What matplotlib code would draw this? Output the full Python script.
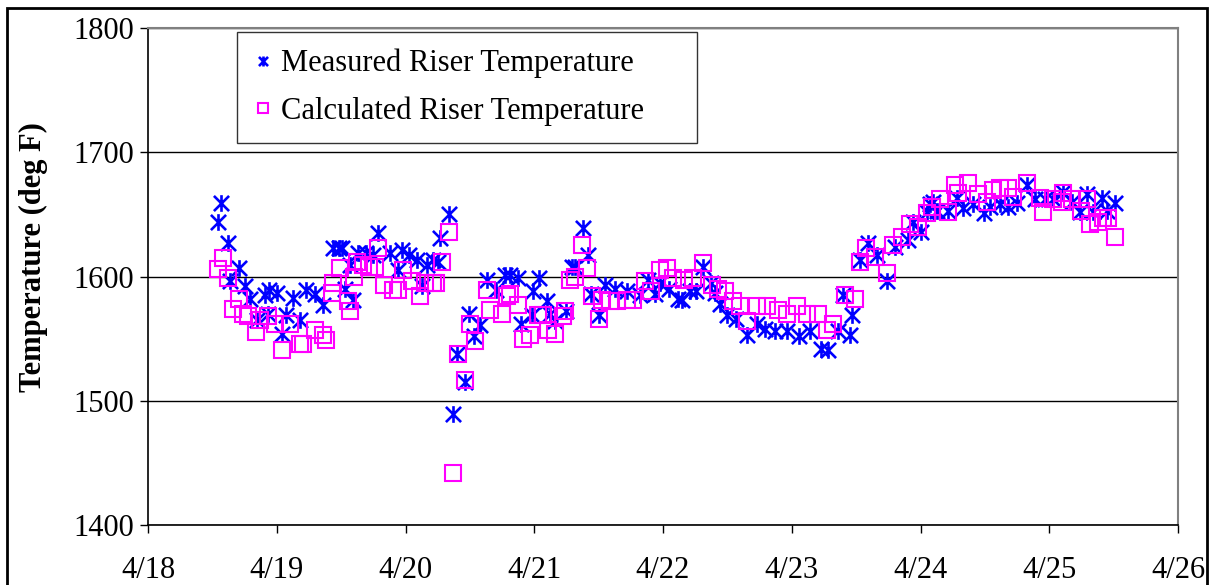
import numpy as np
import matplotlib
matplotlib.use("Agg")
import matplotlib.pyplot as plt
from matplotlib.path import Path
from matplotlib.patches import Rectangle

# days in April (fractional)
measured_day = [
    18.54, 18.57, 18.62, 18.64, 18.71, 18.75, 18.79, 18.85, 18.91, 18.93,
    18.94, 19.00, 19.04, 19.07, 19.13, 19.18, 19.23, 19.30, 19.36, 19.44,
    19.48, 19.51, 19.53, 19.57, 19.59, 19.63, 19.69, 19.75, 19.79, 19.88,
    19.94, 19.97, 20.03, 20.09, 20.13, 20.17, 20.21, 20.25, 20.27, 20.34,
    20.37, 20.40, 20.46, 20.49, 20.53, 20.58, 20.63, 20.70, 20.77, 20.81,
    20.87, 20.90, 20.98, 20.99, 21.04, 21.10, 21.12, 21.16, 21.25, 21.29,
    21.32, 21.38, 21.42, 21.44, 21.50, 21.55, 21.63, 21.72, 21.82, 21.88,
    21.94, 21.98, 22.05, 22.12, 22.15, 22.21, 22.26, 22.31, 22.37, 22.40,
    22.44, 22.50, 22.57, 22.65, 22.73, 22.79, 22.87, 22.96, 23.06, 23.14,
    23.23, 23.28, 23.36, 23.40, 23.45, 23.47, 23.53, 23.59, 23.66, 23.74,
    23.80, 23.90, 23.94, 24.00, 24.05, 24.07, 24.10, 24.13, 24.21, 24.28,
    24.33, 24.41, 24.49, 24.54, 24.62, 24.68, 24.75, 24.83, 24.89, 24.97,
    25.03, 25.11, 25.18, 25.24, 25.29, 25.34, 25.41, 25.45, 25.51,
]
measured_temp = [
    1644, 1659, 1627, 1596, 1607, 1592, 1582, 1565, 1585, 1570,
    1589, 1587, 1554, 1569, 1583, 1565, 1589, 1586, 1577, 1623,
    1623, 1623, 1590, 1609, 1581, 1619, 1619, 1617, 1635, 1619,
    1605, 1621, 1617, 1613, 1592, 1609, 1613, 1612, 1631, 1650,
    1489, 1538, 1515, 1570, 1552, 1561, 1597, 1589, 1601, 1601,
    1599, 1562, 1569, 1588, 1599, 1580, 1570, 1564, 1572, 1608,
    1608, 1639, 1617, 1586, 1569, 1593, 1590, 1588, 1585, 1597,
    1586, 1595, 1590, 1582, 1581, 1588, 1588, 1608, 1595, 1587,
    1578, 1569, 1566, 1553, 1562, 1558, 1556, 1556, 1552, 1556,
    1542, 1541, 1556, 1585, 1553, 1569, 1613, 1627, 1617, 1596,
    1624, 1629, 1644, 1636, 1652, 1658, 1660, 1653, 1653, 1663,
    1655, 1658, 1651, 1656, 1658, 1656, 1659, 1674, 1662, 1662,
    1662, 1668, 1660, 1652, 1666, 1652, 1663, 1653, 1659,
]

calc_day = [
    18.54, 18.58, 18.62, 18.66, 18.71, 18.74, 18.78, 18.84, 18.87, 18.93,
    18.99, 19.04, 19.10, 19.18, 19.20, 19.30, 19.36, 19.38, 19.43, 19.44,
    19.49, 19.55, 19.57, 19.60, 19.62, 19.67, 19.72, 19.76, 19.79, 19.83,
    19.90, 19.94, 19.98, 20.05, 20.11, 20.15, 20.21, 20.24, 20.28, 20.34,
    20.37, 20.41, 20.46, 20.50, 20.54, 20.63, 20.66, 20.75, 20.79, 20.81,
    20.87, 20.91, 20.97, 21.03, 21.07, 21.11, 21.16, 21.22, 21.24, 21.28,
    21.32, 21.37, 21.41, 21.45, 21.50, 21.53, 21.59, 21.64, 21.72, 21.77,
    21.86, 21.91, 21.98, 22.03, 22.08, 22.16, 22.23, 22.31, 22.38, 22.43,
    22.48, 22.54, 22.60, 22.65, 22.73, 22.81, 22.89, 22.96, 23.04, 23.12,
    23.20, 23.27, 23.32, 23.41, 23.49, 23.53, 23.58, 23.65, 23.74, 23.79,
    23.86, 23.92, 23.98, 24.05, 24.09, 24.15, 24.21, 24.27, 24.29, 24.37,
    24.45, 24.52, 24.56, 24.62, 24.68, 24.72, 24.83, 24.93, 24.95, 25.03,
    25.10, 25.11, 25.18, 25.25, 25.29, 25.32, 25.38, 25.42, 25.46, 25.51,
]
calc_temp = [
    1606, 1615, 1599, 1574, 1582, 1570, 1568, 1555, 1565, 1568,
    1562, 1541, 1562, 1546, 1546, 1557, 1553, 1549, 1587, 1595,
    1607, 1580, 1572, 1600, 1612, 1609, 1608, 1608, 1623, 1593,
    1589, 1589, 1605, 1596, 1584, 1595, 1595, 1595, 1612, 1636,
    1442, 1538, 1517, 1562, 1548, 1589, 1573, 1570, 1584, 1586,
    1577, 1550, 1553, 1569, 1569, 1557, 1554, 1568, 1572, 1597,
    1600, 1625, 1607, 1584, 1566, 1581, 1580, 1580, 1581, 1581,
    1596, 1588, 1605, 1607, 1599, 1597, 1599, 1611, 1593, 1590,
    1588, 1580, 1576, 1564, 1576, 1576, 1573, 1570, 1576, 1570,
    1570, 1557, 1562, 1585, 1582, 1612, 1623, 1616, 1603, 1625,
    1632, 1642, 1640, 1651, 1656, 1662, 1652, 1674, 1667, 1675,
    1666, 1660, 1670, 1671, 1671, 1664, 1675, 1663, 1652, 1662,
    1660, 1667, 1662, 1653, 1662, 1642, 1644, 1647, 1647, 1632,
]

x_ticks = [18, 19, 20, 21, 22, 23, 24, 25, 26]
x_labels = ["4/18", "4/19", "4/20", "4/21", "4/22", "4/23", "4/24", "4/25", "4/26"]
y_ticks = [1400, 1500, 1600, 1700, 1800]

# Excel-style asterisk: an X plus a vertical bar
star = Path(
    [(-1, -1), (1, 1), (-1, 1), (1, -1), (0, -1.1), (0, 1.1)],
    [Path.MOVETO, Path.LINETO, Path.MOVETO, Path.LINETO, Path.MOVETO, Path.LINETO],
)

plt.rcParams["font.family"] = ["Liberation Serif", "DejaVu Serif"]

fig = plt.figure(figsize=(12.12, 5.85), dpi=100)
ax = fig.add_axes([148 / 1212, 1 - 525 / 585, 1030 / 1212, 497 / 585])

ax.plot(measured_day, measured_temp, linestyle="none", marker=star,
        markersize=12, markeredgewidth=1.9, color="#0000FF",
        label="Measured Riser Temperature", zorder=3)
ax.plot(calc_day, calc_temp, linestyle="none", marker="s",
        markersize=11, markeredgewidth=1.5, markerfacecolor="none",
        markeredgecolor="#FF00FF", label="Calculated Riser Temperature", zorder=4)

ax.set_xlim(18, 26)
ax.set_ylim(1400, 1800)
ax.set_xticks(x_ticks)
ax.set_xticklabels(x_labels)
ax.set_yticks(y_ticks)
ax.yaxis.grid(True, color="black", linewidth=1.0)
ax.set_axisbelow(True)

for side in ("top", "right"):
    ax.spines[side].set_color("#808080")
    ax.spines[side].set_linewidth(1.5)
for side in ("left", "bottom"):
    ax.spines[side].set_color("black")
    ax.spines[side].set_linewidth(1.2)

ax.tick_params(axis="both", direction="out", length=6, width=1, labelsize=22)
ax.tick_params(axis="x", pad=16)
ax.tick_params(axis="y", pad=4)
ax.set_ylabel("Temperature (deg F)", fontsize=22, fontweight="bold")
ax.yaxis.set_label_coords(-0.097, 0.54)

leg = ax.legend(loc="upper left", bbox_to_anchor=(0.0864, 0.0, 0.4466, 0.992),
                mode="expand", borderaxespad=0, fontsize=22, frameon=True,
                fancybox=False, handlelength=0.6, handletextpad=0.3,
                borderpad=0.55, labelspacing=0.6, markerscale=0.6)
leg.get_frame().set_edgecolor("black")
leg.get_frame().set_linewidth(1.0)

# outer chart border
fig.patches.append(Rectangle((7 / 1212, -0.05), 1200 / 1212, 1.05 - 8 / 585,
                             transform=fig.transFigure, fill=False,
                             edgecolor="black", linewidth=2.0))

fig.savefig("out.png", dpi=100)
